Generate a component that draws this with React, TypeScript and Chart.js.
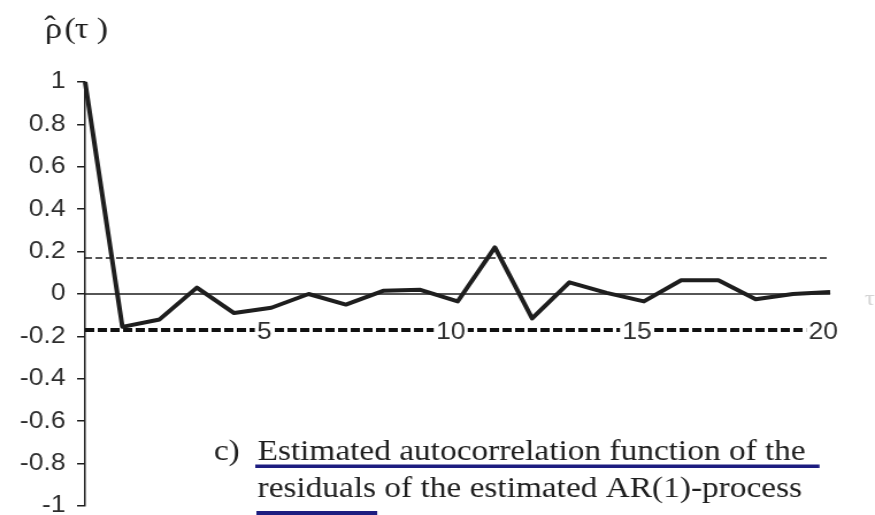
import React, { useEffect, useRef } from 'react';
import { Chart, registerables } from 'chart.js';

Chart.register(...registerables);

// ---- data ----
const lags: number[] = [0, 1, 2, 3, 4, 5, 6, 7, 8, 9, 10, 11, 12, 13, 14, 15, 16, 17, 18, 19, 20];
const acf: number[] = [
  1, -0.155, -0.12, 0.03, -0.09, -0.065, 0.0, -0.05, 0.015, 0.02, -0.035,
  0.22, -0.115, 0.055, 0.005, -0.035, 0.065, 0.065, -0.025, 0.0, 0.01,
];
const upperBound = 0.17;
const lowerBound = -0.17;
const zeroLevel = 0;
const xTickValues: number[] = [5, 10, 15, 20];
const yMin = -1;
const yMax = 1;
const yStep = 0.2;
const titleParts: string[] = ['\u03C1', '(', '\u03C4', ')'];
const titleHat = '\u02C6';
const captionPrefix = 'c)';
const captionLines: string[] = [
  'Estimated autocorrelation function of the',
  'residuals of the estimated AR(1)-process',
];
const captionUnderlinedWord = 'residuals';
const sideLabel = '\u03C4';

// ---- geometry of the (horizontally stretched) picture ----
const STRETCH = 1.15;
const OUT_W = 875;
const OUT_H = 515;
const IN_W = Math.round(OUT_W / STRETCH);

const INK = '#1e1e1e';
const LABEL = '#2e2e2e';
const NAVY = '#1d1d80';

const annotPlugin = {
  id: 'annot',
  afterDraw(chart: any) {
    const ctx: CanvasRenderingContext2D = chart.ctx;
    ctx.save();
    ctx.textBaseline = 'alphabetic';
    ctx.textAlign = 'left';
    // axis title
    ctx.fillStyle = INK;
    ctx.font = '30px "Liberation Serif", "DejaVu Serif", serif';
    const titleX = [39, 56, 65, 84];
    titleParts.forEach((t, i) => ctx.fillText(t, titleX[i], 38));
    ctx.fillText(titleHat, 38.5, 36);
    // faint cut-off label at right
    ctx.fillStyle = '#d4d4d4';
    ctx.font = '22px "Liberation Serif", serif';
    ctx.fillText(sideLabel, 752, 305);
    // caption
    ctx.fillStyle = INK;
    ctx.font = '29px "Liberation Serif", "Times New Roman", serif';
    ctx.fillText(captionPrefix, 186, 460);
    ctx.fillText(captionLines[0], 224, 460);
    ctx.fillText(captionLines[1], 224, 497);
    const w1 = ctx.measureText(captionLines[0]).width;
    const w2 = ctx.measureText(captionUnderlinedWord).width;
    ctx.fillStyle = NAVY;
    ctx.fillRect(222, 464.5, w1 + 14, 3.5);
    ctx.fillRect(223, 511, w2 + 2, 4);
    ctx.restore();
  },
};

export default function App() {
  const ref = useRef<HTMLCanvasElement>(null);

  useEffect(() => {
    const canvas = ref.current;
    if (!canvas) return;
    const first = lags[0];
    const last = lags[lags.length - 1];
    const tickFont = { family: '"Liberation Sans", Arial, sans-serif', size: 23 };
    const chart = new Chart(canvas, {
      type: 'line',
      data: {
        datasets: [
          {
            label: 'acf',
            data: lags.map((l, i) => ({ x: l, y: acf[i] })),
            borderColor: INK,
            borderWidth: 4,
            pointRadius: 0,
            tension: 0,
            clip: false,
            borderJoinStyle: 'round',
          } as any,
          {
            label: 'zero',
            data: [{ x: first, y: zeroLevel }, { x: last, y: zeroLevel }],
            borderColor: INK,
            borderWidth: 1.5,
            pointRadius: 0,
          },
          {
            label: 'upper',
            data: [{ x: first, y: upperBound }, { x: last, y: upperBound }],
            borderColor: INK,
            borderWidth: 1.6,
            borderDash: [6, 3],
            pointRadius: 0,
          },
          {
            label: 'lower',
            data: [{ x: first, y: lowerBound }, { x: last, y: lowerBound }],
            borderColor: '#111',
            borderWidth: 4,
            borderDash: [8, 3],
            pointRadius: 0,
          },
        ],
      },
      options: {
        responsive: false,
        maintainAspectRatio: false,
        devicePixelRatio: 1,
        animation: false,
        layout: { padding: { left: 0, top: 82, right: IN_W - 722, bottom: OUT_H - 506 } },
        plugins: {
          legend: { display: false },
          tooltip: { enabled: false },
        },
        scales: {
          x: {
            type: 'linear',
            min: first,
            max: last,
            position: { y: lowerBound } as any,
            grid: { display: false, drawTicks: false },
            border: { display: false },
            afterBuildTicks: (s: any) => {
              s.ticks = xTickValues.map((v) => ({ value: v }));
            },
            ticks: {
              padding: -11,
              labelOffset: -6,
              autoSkip: false,
              maxRotation: 0,
              color: LABEL,
              font: tickFont,
              showLabelBackdrop: true,
              backdropColor: '#ffffff',
              backdropPadding: { x: 2, y: 0 },
              z: 1,
              callback: (v: any) => String(v),
            } as any,
          },
          y: {
            type: 'linear',
            min: yMin,
            max: yMax,
            ticks: {
              stepSize: yStep,
              padding: 10,
              color: LABEL,
              font: tickFont,
              callback: (v: any) => String(Number(Number(v).toFixed(1))),
            },
            grid: {
              drawOnChartArea: false,
              drawTicks: true,
              tickLength: 7,
              color: INK,
              lineWidth: 1.5,
            },
            border: { display: true, color: INK, width: 1.5 },
            afterFit: (s: any) => {
              s.width = 74;
              s.paddingTop = 0;
              s.paddingBottom = 0;
            },
          },
        },
      },
      plugins: [annotPlugin],
    } as any);
    return () => chart.destroy();
  }, []);

  return (
    <div
      style={{
        position: 'absolute',
        left: 0,
        top: 0,
        width: OUT_W,
        height: OUT_H,
        background: '#ffffff',
        overflow: 'hidden',
      }}
    >
      <canvas
        ref={ref}
        width={IN_W}
        height={OUT_H}
        style={{ width: `${OUT_W}px`, height: `${OUT_H}px`, display: 'block' }}
      />
    </div>
  );
}
